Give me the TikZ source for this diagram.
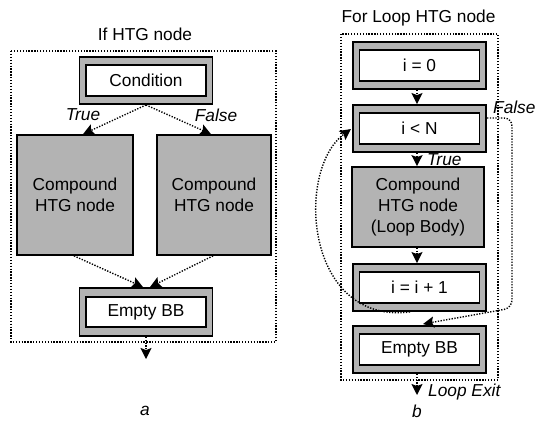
\documentclass[tikz,border=0pt]{standalone}
\usepackage{fontspec}
\setmainfont{Liberation Sans}
\usetikzlibrary{arrows.meta}
\definecolor{boxgray}{RGB}{179,179,179}
\begin{document}
\begin{tikzpicture}[x=1pt,y=-1pt,
  font=\fontsize{17.3}{21}\selectfont,
  outerbox/.style={draw=black, line width=1.9pt, fill=boxgray, minimum width=133pt, minimum height=47pt, inner sep=0pt},
  innerbox/.style={draw=black, line width=1.7pt, fill=white, minimum width=120pt, minimum height=31pt, inner sep=0pt},
  compbox/.style={draw=black, line width=1.7pt, fill=boxgray, align=center, inner sep=0pt},
  flow/.style={line width=1.4pt, dash pattern=on 1.3pt off 1.5pt, -{Stealth[length=11pt,width=11pt,inset=2pt,fill=black]}},
  container/.style={line width=1.3pt, dash pattern=on 1.3pt off 1.6pt},
  lab/.style={font=\fontsize{17.3}{21}\selectfont\itshape, inner sep=0pt}]
\useasboundingbox (0,0) rectangle (535,421);

% ---------- left panel ----------
\node (ltitle) at (145,34) {If HTG node};
\draw[container] (11,51) rectangle (276,342);
\node[outerbox] (condo) at (146,80.5) {};
\node[innerbox] (cond) at (146,80.5) {Condition};
\node[compbox, minimum width=116pt, minimum height=120pt] (compL) at (75,195) {Compound\\HTG node};
\node[compbox, minimum width=114pt, minimum height=120pt] (compR) at (214,195) {Compound\\HTG node};
\node[outerbox, minimum height=48pt] (emptyLo) at (146,312) {};
\node[innerbox, minimum height=30pt] (emptyL) at (146,312) {Empty BB};
\coordinate (lexit) at (146,359);

\draw[flow] (condo.south) -- (compL.north -| 83,0);
\draw[flow] (condo.south) -- (compR.north -| 211,0);
\draw[flow] (compL.south -| 74,0) -- (emptyLo.north -| 143,0);
\draw[flow] (compR.south -| 213,0) -- (emptyLo.north -| 150,0);
\draw[flow] (emptyLo.south) -- (lexit);

\node[lab] (ltrue) at (83,115) {True};
\node[lab] (lfalse) at (216,115) {False};
\node[lab] (la) at (145,411) {a};

% ---------- right panel ----------
\node (rtitle) at (418.5,18) {For Loop HTG node};
\draw[container] (341,34) rectangle (498,380);
\node[outerbox] (inito) at (419.5,65.5) {};
\node[innerbox] (init) at (419.5,65.5) {i = 0};
\node[outerbox] (testo) at (419.5,128.5) {};
\node[innerbox] (test) at (419.5,128.5) {i < N};
\node[compbox, minimum width=132pt, minimum height=80pt] (body) at (418,207) {Compound\\HTG node\\(Loop Body)};
\node[outerbox] (incro) at (419.5,287.5) {};
\node[innerbox] (incr) at (419.5,287.5) {i = i + 1};
\node[outerbox] (emptyRo) at (419.5,349.5) {};
\node[innerbox] (emptyR) at (419.5,349.5) {Empty BB};
\coordinate (rexit) at (417,395);

\draw[flow] (inito.south -| 417,0) -- (testo.north -| 417,0);
\draw[flow] (testo.south -| 417,0) -- (body.north -| 417,0);
\draw[flow] (body.south -| 417,0) -- (incro.north -| 417,0);
\draw[flow] (emptyRo.south -| 417,0) -- (rexit);

% false exit
\draw[flow, rounded corners=8pt] (testo.east |- 0,118) -- (512,118) -- (512,308) -- (423,324);
% back edge
\draw[flow] (incro.south -| 410,0) .. controls (305,325) and (295,170) .. (351,129);

\node[lab, anchor=west] (rtrue) at (427,160) {True};
\node[lab, anchor=west] (rfalse) at (493,107) {False};
\node[lab, anchor=west] (rloop) at (428,392) {Loop Exit};
\node[lab] (rb) at (417,411) {b};
\end{tikzpicture}
\end{document}
